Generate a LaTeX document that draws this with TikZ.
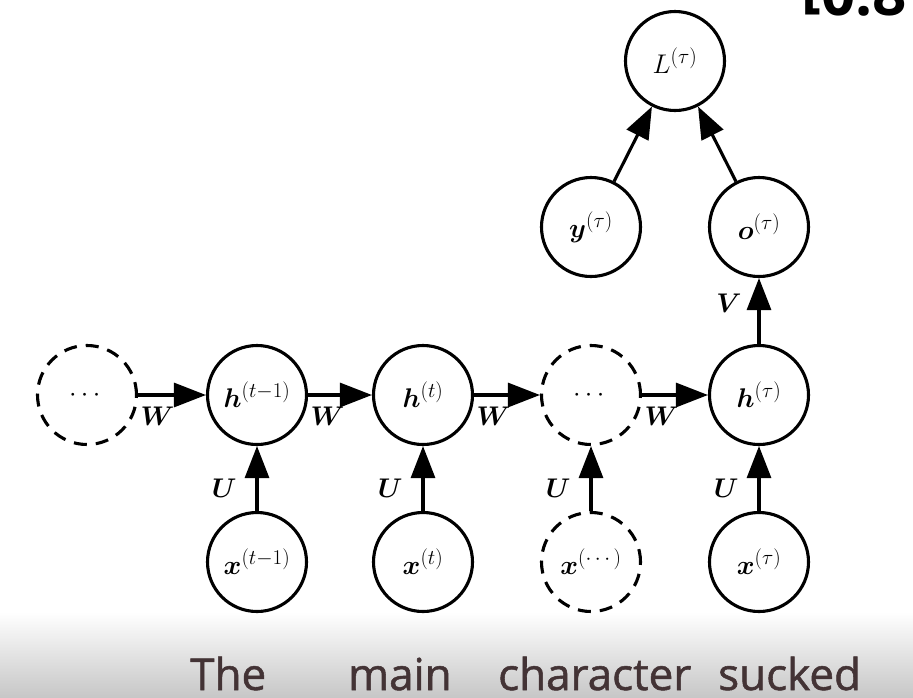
\RequirePackage{fix-cm}
\documentclass[tikz,border=0pt]{standalone}
\usepackage{amsmath}
\usepackage{bm}
\usepackage{fontspec}
\setsansfont{Open Sans}
\newfontfamily\capfont[FakeBold=1.2]{Open Sans}
\newcommand\supx[1]{^{\mbox{\fontsize{21}{24}\selectfont$#1$}}}
\usetikzlibrary{arrows.meta}
\definecolor{captxt}{HTML}{433335}
\begin{document}
\begin{tikzpicture}[x=1pt,y=-1pt,
  mfont/.style={font=\fontsize{27}{32}\selectfont},
  unit/.style={circle, draw, line width=3.1pt, minimum size=99pt, inner sep=0pt, mfont},
  dunit/.style={unit, dash pattern=on 13pt off 9pt},
  arr/.style={line width=3.1pt, -{Triangle[length=32pt,width=24pt]}},
  wlab/.style={below right, inner sep=0pt, xshift=1pt, yshift=-10pt, mfont},
  ulab/.style={left, inner sep=0pt, xshift=-19pt, mfont},
  wordlab/.style={anchor=base west, inner sep=0pt, text depth=0pt, text=captxt,
    font=\capfont\fontsize{44}{48}\selectfont}
]
\useasboundingbox (0,0) rectangle (913,697);
\clip (0,0) rectangle (913,697);
\fill[white] (0,0) rectangle (913,697);
\fill[top color=white, bottom color=black!22] (0,612) rectangle (913,697);

% top-right partial score
\node[anchor=base west, inner sep=0pt, font=\sffamily\bfseries\fontsize{60}{60}\selectfont] (score) at (801,15) {\raisebox{\depth}{[}0.8};

% hidden row
\node[dunit] (d1) at (87,395) {$\cdots$};
\node[unit]  (h1) at (257,395) {$\bm{h}\supx{(t{-}1)}$};
\node[unit]  (h2) at (423,395) {$\bm{h}\supx{(t)}$};
\node[dunit] (d2) at (591,395) {$\cdots$};
\node[unit]  (h3) at (759,395) {$\bm{h}\supx{(\tau)}$};

% input row
\node[unit]  (x1) at (257,562) {$\bm{x}\supx{(t{-}1)}$};
\node[unit]  (x2) at (423,562) {$\bm{x}\supx{(t)}$};
\node[dunit] (x3) at (591,562) {$\bm{x}\supx{(\cdots)}$};
\node[unit]  (x4) at (759,562) {$\bm{x}\supx{(\tau)}$};

% output part
\node[unit] (y) at (591,227) {$\bm{y}\supx{(\tau)}$};
\node[unit] (o) at (759,227) {$\bm{o}\supx{(\tau)}$};
\node[unit] (L) at (675,61) {$L\supx{(\tau)}$};

% recurrent connections
\draw[arr] (d1) -- node[wlab, pos=0] {$\bm{W}$} (h1);
\draw[arr] (h1) -- node[wlab, pos=0] {$\bm{W}$} (h2);
\draw[arr] (h2) -- node[wlab, pos=0] {$\bm{W}$} (d2);
\draw[arr] (d2) -- node[wlab, pos=0] {$\bm{W}$} (h3);

% input connections
\draw[arr] (x1) -- node[ulab, pos=0.35] {$\bm{U}$} (h1);
\draw[arr] (x2) -- node[ulab, pos=0.35] {$\bm{U}$} (h2);
\draw[arr] (x3) -- node[ulab, pos=0.35] {$\bm{U}$} (d2);
\draw[arr] (x4) -- node[ulab, pos=0.35] {$\bm{U}$} (h3);

% output connections
\draw[arr] (h3) -- node[left, inner sep=0pt, xshift=-16pt, pos=0.62, mfont] {$\bm{V}$} (o);
\draw[arr] (y) -- (L);
\draw[arr] (o) -- (L);

% caption words
\node[wordlab] (w1) at (190,690) {The};
\node[wordlab] (w2) at (348,690) {main};
\node[wordlab] (w3) at (498,690) {character};
\node[wordlab] (w4) at (718,690) {sucked};
\end{tikzpicture}
\end{document}
